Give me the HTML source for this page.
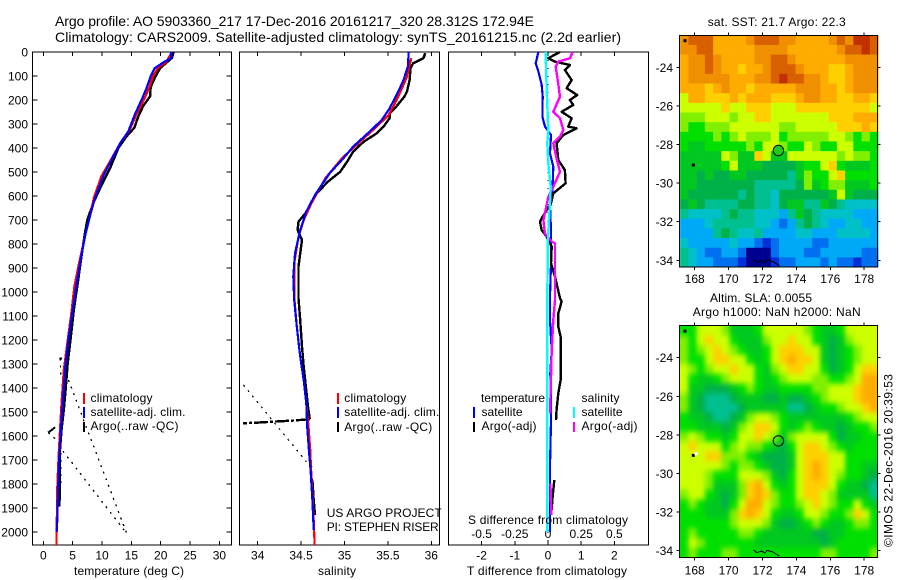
<!DOCTYPE html>
<html lang="en">
<head>
<meta charset="utf-8">
<title>Argo profile 5903360_217</title>
<style>
html,body{margin:0;padding:0;background:#fff;}
svg{display:block;}
text{font-family:"Liberation Sans",sans-serif;font-size:12px;fill:#000;}
</style>
</head>
<body>
<svg id="chart" xmlns="http://www.w3.org/2000/svg" width="900" height="580" viewBox="0 0 900 580">
<defs>
<filter id="soften" x="-10%" y="-10%" width="120%" height="120%" color-interpolation-filters="sRGB">
<feGaussianBlur stdDeviation="2.4 2.8"/>
<feComponentTransfer><feFuncA type="linear" slope="30"/></feComponentTransfer>
</filter>
<clipPath id="slaClip"><rect x="679.3" y="325.7" width="198" height="231.7"/></clipPath>
</defs>
<rect x="0" y="0" width="900" height="580" fill="#fff"/>
<g id="maps"></g>
<g id="plots"></g>
<text x="55" y="26" style="font-size:14px" textLength="479" lengthAdjust="spacing">Argo profile: AO 5903360_217 17-Dec-2016 20161217_320 28.312S 172.94E</text>
<text x="55" y="42" style="font-size:14px" textLength="566" lengthAdjust="spacing">Climatology: CARS2009. Satellite-adjusted climatology: synTS_20161215.nc (2.2d earlier)</text>
<text x="74" y="575" textLength="110" lengthAdjust="spacing">temperature (deg C)</text>
<text x="318" y="575" textLength="38" lengthAdjust="spacing">salinity</text>
<text x="467" y="575" textLength="160" lengthAdjust="spacing">T difference from climatology</text>
<text x="468" y="524" textLength="160" lengthAdjust="spacing">S difference from climatology</text>
<text x="90.5" y="402" textLength="62" lengthAdjust="spacing">climatology</text>
<text x="90.5" y="416" textLength="95" lengthAdjust="spacing">satellite-adj. clim.</text>
<text x="90.5" y="430" textLength="88" lengthAdjust="spacing">Argo(..raw -QC)</text>
<text x="344.3" y="402" textLength="62" lengthAdjust="spacing">climatology</text>
<text x="344.3" y="416" textLength="95" lengthAdjust="spacing">satellite-adj. clim.</text>
<text x="344.3" y="431" textLength="88" lengthAdjust="spacing">Argo(..raw -QC)</text>
<text x="326.7" y="517" textLength="115" lengthAdjust="spacing">US ARGO PROJECT</text>
<text x="326.7" y="531" textLength="112" lengthAdjust="spacing">PI: STEPHEN RISER</text>
<text x="481" y="402" textLength="64" lengthAdjust="spacing">temperature</text>
<text x="481.5" y="416" textLength="41" lengthAdjust="spacing">satellite</text>
<text x="481.5" y="430" textLength="55" lengthAdjust="spacing">Argo(-adj)</text>
<text x="581.5" y="402" textLength="38" lengthAdjust="spacing">salinity</text>
<text x="581.5" y="416" textLength="41" lengthAdjust="spacing">satellite</text>
<text x="581.5" y="430" textLength="56" lengthAdjust="spacing">Argo(-adj)</text>
<text x="707.7" y="26" textLength="138" lengthAdjust="spacing">sat. SST: 21.7 Argo: 22.3</text>
<text x="710" y="302" textLength="102" lengthAdjust="spacing">Altim. SLA: 0.0055</text>
<text x="692.7" y="316" textLength="168" lengthAdjust="spacing">Argo h1000: NaN h2000: NaN</text>
<text transform="translate(892.5,547) rotate(-90)" textLength="173" lengthAdjust="spacing">©IMOS 22-Dec-2016 20:39:53</text>
</svg>
<script>
// ---------- profile data: temperature panel ----------
const climTempDepth=[0,43,67,101,150,191,260,330,380,450,518,608,678,768,879,976,1103,1200,1325,1464,1575,1686,1797,1950,2054];
const climTempValue=[21.9,20.9,19.5,18.7,18,17.3,15.9,14.6,13.1,11.5,9.9,8.6,8,7.1,6.1,5.3,4.7,4.15,3.5,3.1,2.85,2.6,2.4,2.3,2.25];
const satTempDepth=[0,25,43,67,101,150,191,260,330,380,450,518,608,678,768,879,976,1103,1200,1325,1464,1575,1686,1797,1950,2000];
const satTempValue=[21.8,21.8,20.5,19,18.3,17.6,16.9,15.6,14.5,13.1,11.6,10.2,8.8,8,7.1,6.25,5.6,4.83,4.26,3.7,3.3,3,2.73,2.56,2.39,2.27];
const argoTempDepth=[0,25,67,108,146,185,226,268,316,351,400,483,567,630,700,768,851,976,1075,1186,1297,1408,1492,1575,1658,1825,1894];
const argoTempValue=[22.2,21.9,19.9,19,18.3,18.2,17,16.2,15.5,14.2,12.8,11.4,9.7,8.5,7.5,7,6.5,5.8,5.2,4.7,4.15,3.8,3.5,3.1,2.84,2.84,2.73];
const rawTempDotDepth=[1277,1365,null,1367,2006,1665,1660,1800,null,1586,1630];
const rawTempDotValue=[2.9,3,null,4.3,14.2,3.4,3,3,null,0.85,2.9];
const rawTempDashDepth=[1586,1564,null,1277,1277];
const rawTempDashValue=[0.85,2,null,2.8,3.2];
// ---------- profile data: salinity panel ----------
const climSalDepth=[26,103,186,262,318,380,443,526,630,700,770,880,1019,1144,1269,1367,1464,1561,1658,1742,1867,1992,2054];
const climSalValue=[35.77,35.72,35.62,35.51,35.35,35.16,34.97,34.78,34.62,34.53,34.47,34.42,34.42,34.45,34.49,34.53,34.56,34.585,34.605,34.615,34.635,34.65,34.655];
const satSalDepth=[0,61,117,165,235,283,325,394,450,505,596,665,742,839,936,1033,1144,1269,1367,1464,1561,1658,1742,1867,1992];
const satSalValue=[35.74,35.73,35.68,35.62,35.52,35.43,35.31,35.1,34.97,34.83,34.66,34.56,34.49,34.43,34.41,34.42,34.45,34.49,34.53,34.56,34.57,34.59,34.61,34.63,34.645];
const argoSalDepth=[5,26,47,68,117,165,186,235,256,276,311,339,374,415,457,499,540,589,672,707,742,783,839,894,1026,1117,1228,1311,1478,1530,null,1783,1867,1929];
const argoSalValue=[35.93,35.91,35.79,35.76,35.75,35.72,35.69,35.58,35.52,35.52,35.45,35.37,35.22,35.1,35.03,34.95,34.81,34.68,34.55,34.47,34.46,34.51,34.49,34.47,34.47,34.49,34.51,34.53,34.58,34.6,null,34.63,34.645,34.66];
const rawSalDotDepth=[1387,1707,null,1720,1783];
const rawSalDotValue=[33.835,34.56,null,34.62,34.63];
const rawSalDashDepth=[1530,1536,1541,1544,1547];
const rawSalDashValue=[34.6,34.4,34.15,34,33.83];
// ---------- profile data: difference panel ----------
const diffZeroDepth=[0,2054];
const diffZeroValue=[0,0];
const satTDiffDepth=[0,47,82,137,186,269,311,346,422,478,603,644,742,880,1019,1117,1242,1339,1450,1533,1725,2000];
const satTDiffValue=[-0.29,-0.37,-0.29,-0.19,-0.16,-0.17,-0.09,0.09,0.06,0.16,0.13,0.06,0.09,0.09,0.06,0.06,0.11,0.07,0.09,0.09,0.06,0.06];
const argoTDiffDepth=[0,26,40,54,75,117,151,179,200,221,249,276,311,318,346,381,450,492,547,589,630,693,707,742,769,811,880,936,1026,1040,1089,1144,1186,1367,1422,1490,1533,null,1783,1867,1908];
const argoTDiffValue=[0.36,0.01,0.21,0.66,0.51,0.71,0.56,0.88,0.66,0.76,0.41,0.71,0.61,0.86,0.46,0.26,0.31,0.51,0.53,0.16,0.09,-0.19,-0.24,-0.19,-0.04,0.11,0.09,0.21,0.36,0.41,0.31,0.31,0.38,0.38,0.31,0.26,0.24,null,0.19,0.13,0.11];
const satSDiffDepth=[0,158,325,381,464,561,630,769,1019,2000];
const satSDiffValue=[-0.018,-0.01,0.0025,-0.005,0.0025,0.02,0.015,0,-0.005,-0.005];
const argoSDiffDepth=[0,26,40,61,117,186,249,276,325,353,381,443,499,561,603,700,756,790,797,1019,1033,1117,1242,1339,1450,1506,null,1797,1894,1930];
const argoSDiffValue=[0.186,0.166,0.078,0.058,0.073,0.09,0.04,0.09,0.115,0.09,0.04,0.065,0.09,0.04,0.003,-0.035,-0.023,0.028,0.053,0.053,0.053,0.04,0.028,0.023,0.018,0.018,null,0.018,0.023,0.023];
// ---------- tick labels ----------
const depthTicks=[0,100,200,300,400,500,600,700,800,900,1000,1100,1200,1300,1400,1500,1600,1700,1800,1900,2000];
const tempTicks=[0,5,10,15,20,25,30];
const salTicks=["34","34.5","35","35.5","36"];
const tDiffTicks=["-2","-1","0","1","2"];
const sDiffTicks=["-0.5","-0.25","0","0.25","0.5"];
const lonTicks=[168,170,172,174,176,178];
const latTicks=[-24,-26,-28,-30,-32,-34];
// ---------- argo position ----------
const argoLon=[172.94];
const argoLat=[-28.312];
const coastLon=[171.46,171.66,171.95,172.15,172.28,172.64,172.99];
const coastLat=[-33.95,-34.10,-34.02,-34.12,-33.98,-34.07,-34.28];
const islandLon=[167.43,167.92];
const islandLat=[-22.62,-29.06];
const slaGapLon=[168.08];
const slaGapLat=[-28.98];
// ---------- map level grids (north to south) ----------
const sstRows=[
[13,14,14,14,12,12,12,12,13,14,14,14,13,13,12,12,12,12,13,14,13,15,15,14],
[13,13,14,14,12,12,12,12,12,13,13,13,13,12,12,12,12,12,12,13,14,14,15,14],
[12,13,13,14,13,12,12,12,12,13,13,14,14,13,12,12,12,12,12,12,13,13,13,13],
[12,13,13,14,13,12,12,11,12,12,13,14,14,14,13,12,12,12,11,11,12,13,13,13],
[12,13,13,13,13,13,12,12,12,13,13,14,15,14,14,13,13,12,11,11,12,13,13,13],
[12,12,12,11,12,13,12,12,11,12,12,12,12,12,13,13,13,12,12,11,12,13,13,13],
[10,12,12,11,11,11,12,11,12,12,12,11,11,11,12,13,13,12,12,11,11,12,12,11],
[10,10,10,10,10,11,10,10,11,11,11,10,10,10,11,11,11,11,11,11,11,11,11,10],
[9,9,9,10,10,10,9,10,10,11,11,10,10,10,10,10,10,10,11,11,11,12,12,12],
[9,8,8,9,9,9,10,10,10,10,10,10,9,9,10,10,10,10,10,11,11,11,12,11],
[8,8,8,8,9,8,9,10,9,9,9,10,8,9,9,9,9,9,10,10,9,8,9,8],
[8,7,7,8,8,8,8,8,9,8,10,10,9,8,8,10,9,8,8,10,10,8,8,8],
[7,7,7,7,7,10,9,7,7,11,10,7,7,10,10,10,10,10,10,9,10,9,9,8],
[7,7,7,7,7,8,10,7,7,7,6,6,6,6,7,8,8,10,11,8,7,7,7,8],
[7,7,6,7,6,6,7,7,6,6,6,6,6,5,7,9,8,8,10,11,8,8,8,8],
[7,7,6,6,6,6,6,6,6,5,5,5,5,5,6,9,7,8,9,9,7,7,7,8],
[7,6,6,6,6,6,6,5,6,5,5,4,6,6,6,6,6,6,7,10,7,6,6,6],
[6,7,6,5,5,5,5,6,6,5,5,4,6,7,7,5,5,7,6,5,4,4,4,4],
[5,4,4,4,4,5,6,5,5,4,4,4,3,5,7,6,5,4,4,4,4,3,3,3],
[3,3,3,4,5,5,5,5,5,4,4,3,2,3,5,6,5,4,3,3,4,4,3,3],
[3,3,3,3,5,6,5,4,4,5,3,3,3,3,4,4,3,3,3,4,4,4,4,3],
[4,3,3,3,3,3,4,3,3,2,1,2,3,3,3,3,2,2,3,3,3,3,3,3],
[5,4,3,2,2,3,3,2,0,0,0,2,3,3,3,2,2,3,3,3,3,3,2,2],
[5,4,3,3,2,2,2,1,0,0,0,1,2,2,3,3,3,2,3,2,2,1,2,2]
];
const slaRows=[
[8,8,10,10,10,9,7,7,7,8,10,10,10,10,10,9,8,7,7,8,10,10,10,10],
[9,8,10,11,10,10,8,7,7,7,9,10,10,11,10,10,8,7,6,7,9,10,10,10],
[9,8,9,10,11,10,9,8,7,7,8,10,11,11,11,10,10,7,6,7,8,9,10,10],
[9,8,8,10,11,11,10,10,8,7,8,10,11,12,11,11,10,7,6,7,8,9,10,10],
[10,9,8,9,10,10,11,10,10,8,7,9,10,11,11,10,10,8,6,7,8,10,11,11],
[10,8,7,7,8,9,10,10,10,8,7,8,9,10,10,10,9,9,8,8,9,10,12,12],
[10,7,7,6,6,6,7,8,9,8,7,7,8,8,8,8,9,9,10,10,10,11,12,12],
[9,7,6,5,5,5,6,7,7,7,6,6,7,6,6,7,8,9,10,10,10,11,12,12],
[9,7,6,5,5,5,5,6,7,7,7,7,7,5,5,6,7,8,8,9,10,10,11,12],
[8,7,7,6,5,5,6,7,9,10,10,9,8,7,7,7,7,7,7,7,8,9,10,10],
[8,8,7,7,7,6,7,9,10,11,11,10,8,7,8,9,8,7,7,6,7,8,8,9],
[9,10,9,8,8,7,8,10,10,11,10,9,7,9,10,10,10,10,8,6,7,7,8,8],
[10,11,10,10,10,8,9,10,9,9,8,7,6,8,10,11,11,10,9,8,7,8,8,8],
[10,10,10,11,11,9,9,9,8,7,6,6,6,7,10,11,11,11,10,10,8,8,8,8],
[10,10,10,10,10,9,8,9,9,8,7,6,6,7,10,11,12,11,10,10,8,8,7,7],
[10,10,10,9,8,8,8,10,10,10,9,7,6,8,10,11,12,11,10,9,8,8,7,6],
[10,10,10,9,7,7,7,9,11,12,10,8,7,8,10,11,11,11,10,8,7,7,6,5],
[9,10,10,8,7,6,7,9,11,12,11,9,8,8,10,11,11,10,9,7,7,7,7,5],
[8,9,8,7,7,6,8,10,12,12,10,9,8,8,9,10,11,10,9,8,8,10,8,7],
[8,8,8,7,7,7,9,11,12,11,10,8,7,7,8,10,10,9,8,8,9,11,10,8],
[8,8,8,8,8,8,9,10,10,10,9,7,6,6,7,8,9,8,7,7,8,9,9,8],
[8,9,8,8,8,8,8,9,9,8,7,7,7,7,7,7,6,6,7,7,8,8,8,8],
[8,10,9,8,8,8,8,8,8,7,7,7,7,7,7,7,7,6,7,8,8,8,8,8],
[8,9,8,8,8,9,9,8,8,8,8,8,8,8,8,8,8,9,9,8,8,8,8,9]
];
// ---------- palette ----------
const levelColors=["#000090","#0030d8","#0070f0","#00a8f8","#00c0c8","#00c090","#00b048","#00c820","#00e000","#80f000","#ccff00","#ffd000","#ffac00","#f09000","#d86000","#c03000"];

// ---------- axis functions ----------
const PLOT_TOP=52, PLOT_BOTTOM=545;
function yDepth(d){ return 52 + d*0.24; }
function xTemp(t){ return 43.3 + t*5.87; }
function xSal(s){ return 257.7 + (s-34)*86.8; }
function xTDiff(t){ return 548 + t*33.2; }
function xSDiff(s){ return 548 + s*132.8; }
const MAP_LEFT=679.3, MAP_RIGHT=877.3, MAP_W=198, MAP_H=231.7;
const LON_MIN=167.14, LON_MAX=178.82, LAT_MAX=-22.34, LAT_MIN=-34.35;
function xLon(lon){ return 694.7 + (lon-168)*16.95; }
function yLat(lat,top){ return top + 32 + (-24-lat)*19.3; }

const NS="http://www.w3.org/2000/svg";
function mk(tag,name,parent,interactable){
  const el=document.createElementNS(NS,tag);
  
  
  parent.appendChild(el);
  return el;
}
function label(parent,name,txt,x,y,anchor){
  const el=mk('text',name,parent);
  el.setAttribute('x',x);
  el.setAttribute('y',y);
  el.setAttribute('text-anchor',anchor||'middle');
  el.textContent=txt;
  return el;
}
function seg(parent,name,x1,y1,x2,y2,color,w){
  const el=mk('line',name,parent);
  el.setAttribute('x1',x1);
  el.setAttribute('y1',y1);
  el.setAttribute('x2',x2);
  el.setAttribute('y2',y2);
  el.setAttribute('stroke',color||'#000');
  el.setAttribute('stroke-width',w||1);
  el.setAttribute('shape-rendering','crispEdges');
  return el;
}
function series(parent,name,depths,values,xf,color,width,dash){
  let pts=[];
  function flush(){
    if(pts.length>1){
      const el=mk('polyline',name,parent);
      el.setAttribute('points',pts.join(' '));
      el.setAttribute('fill','none');
      el.setAttribute('stroke',color);
      el.setAttribute('stroke-width',width);
      el.setAttribute('stroke-linejoin','round');
      el.setAttribute('shape-rendering','crispEdges');
      if(dash) el.setAttribute('stroke-dasharray',dash);
    }
    pts=[];
  }
  for(let i=0;i<depths.length;i++){
    if(depths[i]===null||values[i]===null){ flush(); continue; }
    pts.push(xf(values[i]).toFixed(1)+','+yDepth(depths[i]).toFixed(1));
  }
  flush();
}
function frame(parent,name,x1,y1,x2,y2){
  const el=mk('rect',name,parent);
  el.setAttribute('x',x1);
  el.setAttribute('y',y1);
  el.setAttribute('width',x2-x1);
  el.setAttribute('height',y2-y1);
  el.setAttribute('fill','none');
  el.setAttribute('stroke','#000');
  el.setAttribute('stroke-width',1);
  el.setAttribute('shape-rendering','crispEdges');
  return el;
}
function legendBar(parent,name,x,y1,y2,color){
  seg(parent,name,x,y1,x,y2,color,2);
}

// ---------- profile panels ----------
const plots=document.getElementById('plots');

// temperature panel
const p1=mk('g','temperature-panel',plots);
frame(p1,'temperature-panel-frame',32.5,PLOT_TOP,231.5,PLOT_BOTTOM);
depthTicks.forEach(function(d){
  seg(p1,'depth-tick-left',32.5,yDepth(d),37.5,yDepth(d));
  seg(p1,'depth-tick-right',226.5,yDepth(d),231.5,yDepth(d));
  label(p1,'depth-tick-label',String(d),28,yDepth(d)+4.5,'end');
});
tempTicks.forEach(function(t){
  seg(p1,'temperature-tick-top',xTemp(t),PLOT_TOP,xTemp(t),PLOT_TOP+4);
  seg(p1,'temperature-tick-bottom',xTemp(t),PLOT_BOTTOM,xTemp(t),PLOT_BOTTOM-4);
  label(p1,'temperature-tick-label',String(t),xTemp(t),559.5);
});
series(p1,'temperature-raw-dotted',rawTempDotDepth,rawTempDotValue,xTemp,'#000',1.3,'2 5');
series(p1,'temperature-raw-dash',rawTempDashDepth,rawTempDashValue,xTemp,'#000',2);
series(p1,'temperature-argo-line',argoTempDepth,argoTempValue,xTemp,'#000',2.4);
series(p1,'temperature-climatology-line',climTempDepth,climTempValue,xTemp,'#f00',2.2);
series(p1,'temperature-satellite-line',satTempDepth,satTempValue,xTemp,'#00f',2.2);
legendBar(p1,'legend-climatology-swatch',84,393,404,'#f00');
legendBar(p1,'legend-satellite-swatch',84,407,418,'#00f');
legendBar(p1,'legend-argo-swatch',84,422,432,'#000');

// salinity panel
const p2=mk('g','salinity-panel',plots);
frame(p2,'salinity-panel-frame',239.5,PLOT_TOP,439.5,PLOT_BOTTOM);
salTicks.forEach(function(s){
  const v=parseFloat(s);
  seg(p2,'salinity-tick-top',xSal(v),PLOT_TOP,xSal(v),PLOT_TOP+4);
  seg(p2,'salinity-tick-bottom',xSal(v),PLOT_BOTTOM,xSal(v),PLOT_BOTTOM-4);
  label(p2,'salinity-tick-label',s,xSal(v),559.5);
});
series(p2,'salinity-raw-dotted',rawSalDotDepth,rawSalDotValue,xSal,'#000',1.3,'2 5');
series(p2,'salinity-raw-dash',rawSalDashDepth,rawSalDashValue,xSal,'#000',2.4,'14 2 3 2');
series(p2,'salinity-argo-line',argoSalDepth,argoSalValue,xSal,'#000',2.4);
series(p2,'salinity-climatology-line',climSalDepth,climSalValue,xSal,'#f00',2.2);
series(p2,'salinity-satellite-line',satSalDepth,satSalValue,xSal,'#00f',2.2);
legendBar(p2,'salinity-legend-climatology-swatch',338,393,404,'#f00');
legendBar(p2,'salinity-legend-satellite-swatch',338,407,418,'#00f');
legendBar(p2,'salinity-legend-argo-swatch',338,422,432,'#000');

// difference panel
const p3=mk('g','difference-panel',plots);
frame(p3,'difference-panel-frame',448.5,PLOT_TOP,648.5,PLOT_BOTTOM);
tDiffTicks.forEach(function(t){
  const v=parseFloat(t);
  seg(p3,'t-difference-tick-top',xTDiff(v),PLOT_TOP,xTDiff(v),PLOT_TOP+4);
  seg(p3,'t-difference-tick-bottom',xTDiff(v),PLOT_BOTTOM,xTDiff(v),PLOT_BOTTOM-4);
  label(p3,'t-difference-tick-label',t,xTDiff(v),559.5);
});
sDiffTicks.forEach(function(s){
  label(p3,'s-difference-tick-label',s,xSDiff(parseFloat(s)),538);
});
series(p3,'zero-difference-dotted',diffZeroDepth,diffZeroValue,xTDiff,'#000',1,'1 7');
series(p3,'t-difference-satellite-line',satTDiffDepth,satTDiffValue,xTDiff,'#00f',2.2);
series(p3,'t-difference-argo-line',argoTDiffDepth,argoTDiffValue,xTDiff,'#000',2.4);
series(p3,'s-difference-argo-line',argoSDiffDepth,argoSDiffValue,xSDiff,'#f0f',2.4);
series(p3,'s-difference-satellite-line',satSDiffDepth,satSDiffValue,xSDiff,'#0ff',2.4);
legendBar(p3,'diff-legend-t-satellite-swatch',474,407,418,'#00f');
legendBar(p3,'diff-legend-t-argo-swatch',474,422,432,'#000');
legendBar(p3,'diff-legend-s-satellite-swatch',574,407,418,'#0ff');
legendBar(p3,'diff-legend-s-argo-swatch',574,422,432,'#f0f');

// ---------- maps ----------
const maps=document.getElementById('maps');
function drawMap(rows,top,prefix,labelBase,circleFill,smooth){
  const g=mk('g',prefix+'-map',maps);
  const clip=mk('g',prefix+'-cell-clip',g);
  const cells=mk('g',prefix+'-cells',clip);
  if(smooth){
    clip.setAttribute('clip-path','url(#slaClip)');
    cells.setAttribute('filter','url(#soften)');
  }
  const nr=rows.length, nc=rows[0].length;
  const dLon=(LON_MAX-LON_MIN)/nc, dLat=(LAT_MAX-LAT_MIN)/nr;
  rows.forEach(function(row,r){
    row.forEach(function(level,c){
      const x0=xLon(LON_MIN+c*dLon), x1=xLon(LON_MIN+(c+1)*dLon);
      const y0=yLat(LAT_MAX-r*dLat,top), y1=yLat(LAT_MAX-(r+1)*dLat,top);
      const cell=mk('rect',prefix+'-cell',cells);
      cell.setAttribute('x',x0.toFixed(2));
      cell.setAttribute('y',y0.toFixed(2));
      cell.setAttribute('width',(x1-x0+0.3).toFixed(2));
      cell.setAttribute('height',(y1-y0+0.3).toFixed(2));
      cell.setAttribute('fill',levelColors[level]);
    });
  });
  const coast=mk('polyline',prefix+'-coastline',g);
  coast.setAttribute('points',coastLon.map(function(lon,i){return xLon(lon).toFixed(1)+','+yLat(coastLat[i],top).toFixed(1);}).join(' '));
  coast.setAttribute('fill','none');
  coast.setAttribute('stroke','#000');
  coast.setAttribute('stroke-width',1);
  coast.setAttribute('shape-rendering','crispEdges');
  islandLon.forEach(function(lon,i){
    const isl=mk('rect',prefix+'-island',g);
    isl.setAttribute('x',(xLon(lon)-1.5).toFixed(1));
    isl.setAttribute('y',(yLat(islandLat[i],top)-1.5).toFixed(1));
    isl.setAttribute('width',3);
    isl.setAttribute('height',3);
    isl.setAttribute('fill','#000');
  });
  if(smooth){
    slaGapLon.forEach(function(lon,i){
      const gap=mk('rect',prefix+'-missing-data-pixel',g);
      gap.setAttribute('x',(xLon(lon)-1.5).toFixed(1));
      gap.setAttribute('y',(yLat(slaGapLat[i],top)-1.5).toFixed(1));
      gap.setAttribute('width',3);
      gap.setAttribute('height',3);
      gap.setAttribute('fill','#fff');
    });
  }
  const mark=mk('circle',prefix+'-argo-position',g);
  mark.setAttribute('cx',xLon(argoLon[0]).toFixed(1));
  mark.setAttribute('cy',yLat(argoLat[0],top).toFixed(1));
  mark.setAttribute('r',5.2);
  mark.setAttribute('fill',circleFill);
  mark.setAttribute('stroke','#000');
  mark.setAttribute('stroke-width',1);
  frame(g,prefix+'-map-frame',MAP_LEFT,top,MAP_RIGHT,top+MAP_H);
  lonTicks.forEach(function(lon){
    seg(g,prefix+'-lon-tick-top',xLon(lon),top-3,xLon(lon),top);
    seg(g,prefix+'-lon-tick-bottom',xLon(lon),top+MAP_H,xLon(lon),top+MAP_H+3);
    label(g,prefix+'-lon-tick-label',String(lon),xLon(lon),labelBase);
  });
  latTicks.forEach(function(lat){
    seg(g,prefix+'-lat-tick-left',MAP_LEFT-3,yLat(lat,top),MAP_LEFT,yLat(lat,top));
    seg(g,prefix+'-lat-tick-right',MAP_RIGHT,yLat(lat,top),MAP_RIGHT+3,yLat(lat,top));
    label(g,prefix+'-lat-tick-label',String(lat),673,yLat(lat,top)+4.5,'end');
  });
}
drawMap(sstRows,35.3,'sst',283,'#20c820',false);
drawMap(slaRows,325.7,'sla',574.5,'none',true);
</script>
</body>
</html>
